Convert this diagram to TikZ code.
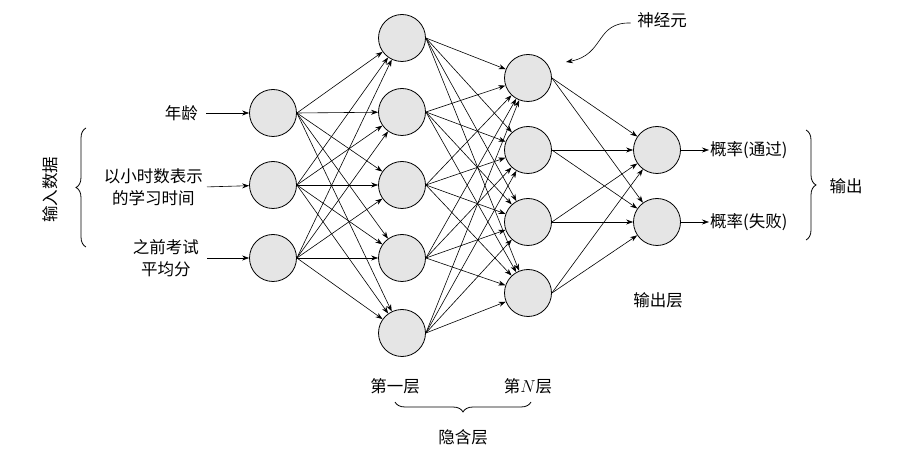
\documentclass[tikz,border=0pt]{standalone}
\usepackage{fontspec}
\newfontfamily\cjk{Noto Sans CJK SC}
\usepackage{tikz}
\usetikzlibrary{arrows.meta,positioning,decorations.pathreplacing}

\begin{document}
\begin{tikzpicture}[
  x=1pt, y=-1pt,
  font=\cjk\fontsize{16.5}{22}\selectfont,
  nrn/.style={draw, circle, line width=0.8pt, minimum size=47pt, inner sep=0pt, fill=black!10},
  pf/.style={-{Stealth[length=7pt,width=5pt]}, line width=0.6pt},
  br/.style={decorate, decoration={brace, amplitude=10pt}, line width=0.8pt},
  lbl/.style={align=center, inner sep=1pt}
]
\useasboundingbox (0,0) rectangle (919,454);

% input layer
\node[nrn] (i1) at (273,113) {};
\node[nrn] (i2) at (273,185) {};
\node[nrn] (i3) at (273,258) {};
% first hidden layer
\node[nrn] (a1) at (402,38) {};
\node[nrn] (a2) at (402,112) {};
\node[nrn] (a3) at (402,185) {};
\node[nrn] (a4) at (402,258) {};
\node[nrn] (a5) at (402,333) {};
% N-th hidden layer
\node[nrn] (b1) at (528,78) {};
\node[nrn] (b2) at (528,150) {};
\node[nrn] (b3) at (528,222) {};
\node[nrn] (b4) at (528,293) {};
% output layer
\node[nrn] (o1) at (657,150) {};
\node[nrn] (o2) at (657,222) {};

% connections
\foreach \s in {1,2,3}
  \foreach \t in {1,...,5}
    \draw[pf] (i\s.east) -- (a\t);
\foreach \s in {1,...,5}
  \foreach \t in {1,...,4}
    \draw[pf] (a\s.east) -- (b\t);
\foreach \s in {1,...,4}
  \foreach \t in {1,2}
    \draw[pf] (b\s.east) -- (o\t);

% inputs
\node[lbl, anchor=east] (age) at (199,113) {年龄};
\node[lbl, anchor=east] (hours) at (204,187) {以小时数表示\\的学习时间};
\node[lbl, anchor=east] (score) at (200,258) {之前考试\\平均分};
\draw[pf, shorten <=7pt] (age.east) -- (i1);
\draw[pf, shorten <=3pt] (hours.east) -- (i2);
\draw[pf, shorten <=7pt] (score.east) -- (i3);
\draw[br] (86,247) -- (86,128);
\node[rotate=90] (inlbl) at (50,190) {输入数据};

% outputs
\node[lbl, anchor=west] (pass) at (709,150) {概率(通过)};
\node[lbl, anchor=west] (fail) at (709,222) {概率(失败)};
\draw[pf] (o1.east) -- (pass.west);
\draw[pf] (o2.east) -- (fail.west);
\draw[br] (806,130) -- (806,240);
\node (outlbl) at (846,186) {输出};
\node (outlayer) at (658,300) {输出层};

% hidden layers
\node (first) at (395,386) {第一层};
\node (last) at (528,386) {第$N$层};
\draw[br] (531,402) -- (395,402);
\node (hidden) at (463,437) {隐含层};

% neuron pointer
\node (neuronlbl) at (662,20) {神经元};
\coordinate (ptr) at (566,62);
\draw[pf] ([xshift=-3pt,yshift=-3pt]neuronlbl.west) .. controls (595,22) and (605,55) .. (ptr);
\end{tikzpicture}
\end{document}
